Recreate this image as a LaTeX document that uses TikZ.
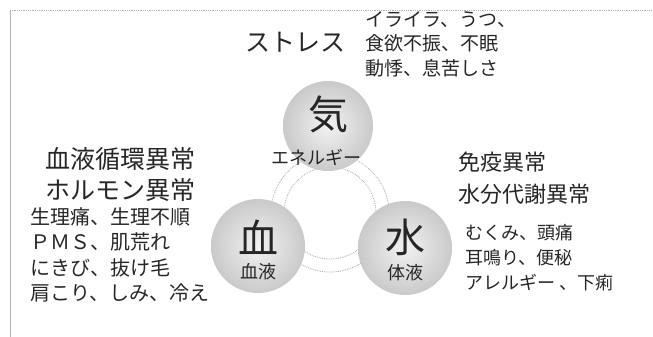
\documentclass[tikz,border=0pt]{standalone}
\usepackage{fontspec}
\newfontfamily\jp{Noto Sans CJK JP}
\begin{document}
\begin{tikzpicture}[x=1pt,y=-1pt,
  orb/.style={circle, minimum size=#1, inner sep=0pt, shading=radial,
    inner color=gray!10, outer color=gray!42},
  ringline/.style={circle, draw=gray!70, densely dotted, line width=0.8pt, minimum size=#1, inner sep=0pt},
  glyph/.style={font=\jp\fontsize{40}{40}\selectfont, inner sep=0pt, text=black!85},
  sub/.style={font=\jp\fontsize{18}{18}\selectfont, inner sep=0pt, text=black!85},
  headL/.style={font=\jp\fontsize{25}{31}\selectfont, inner sep=0pt, align=left, text=black!85},
  headR/.style={font=\jp\fontsize{22}{32}\selectfont, inner sep=0pt, align=left, text=black!85},
  smallL/.style={font=\jp\fontsize{20}{25.5}\selectfont, inner sep=0pt, align=left, text=black!85},
  smallR/.style={font=\jp\fontsize{18}{25}\selectfont, inner sep=0pt, align=left, text=black!85},
  smallT/.style={font=\jp\fontsize{19}{24.5}\selectfont, inner sep=0pt, align=left, text=black!85},
  frame/.style={draw=gray!60, line width=0.8pt}]
\useasboundingbox (0,0) rectangle (653,337);
% frame
\coordinate (tl) at (10,10);
\coordinate (tr) at (651,10);
\coordinate (bl) at (10,337);
\draw[frame, densely dotted] (tl) -- (tr);
\draw[frame] (tl) -- (bl);
% rings
\node[ringline=92pt] (ringa) at (330,213) {};
\node[ringline=118pt] (ringb) at (330,213) {};
% orbs
\node[orb=90pt] (ki) at (328,126) {};
\node[orb=94pt] (ketsu) at (258,246) {};
\node[orb=94pt] (sui) at (405,248) {};
% orb texts
\node[glyph] (kiG) at (328,114) {気};
\node[sub] (kiS) at (316,157) {エネルギー};
\node[glyph] (ketsuG) at (258,237) {血};
\node[sub] (ketsuS) at (258,272) {血液};
\node[glyph] (suiG) at (405,237) {水};
\node[sub] (suiS) at (405,273) {体液};
% top texts
\node[font=\jp\fontsize{25}{25}\selectfont, inner sep=0pt, anchor=west, text=black!85] (stress) at (245,42) {ストレス};
\node[smallT, anchor=north west] (stressL) at (365,11) {イライラ、うつ、\\食欲不振、不眠\\動悸、息苦しさ};
% left texts
\node[headL, anchor=north west] (leftH) at (45,147) {血液循環異常\\ホルモン異常};
\node[smallL, anchor=north west] (leftL) at (30,207) {生理痛、生理不順\\ＰＭＳ、肌荒れ\\にきび、抜け毛\\肩こり、しみ、冷え};
% right texts
\node[headR, anchor=north west] (rightH) at (458,152) {免疫異常\\水分代謝異常};
\node[smallR, anchor=north west] (rightL) at (465,224) {むくみ、頭痛\\耳鳴り、便秘\\アレルギー 、下痢};
\end{tikzpicture}
\end{document}
